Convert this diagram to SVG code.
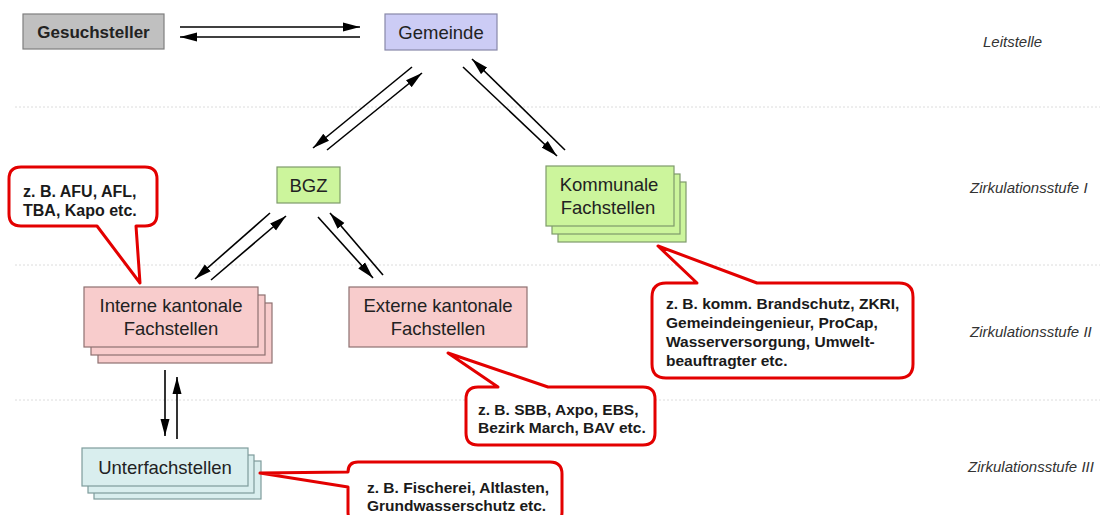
<svg xmlns="http://www.w3.org/2000/svg" width="1106" height="515" viewBox="0 0 1106 515">
<style>
.sep{stroke:#dcdcdc;stroke-width:1;stroke-dasharray:2,2;fill:none}
.node text{font-family:"Liberation Sans",Arial,sans-serif;font-size:18.5px;fill:#222;text-anchor:middle}
.lvl{font-family:"Liberation Sans",Arial,sans-serif;font-size:15px;font-style:italic;fill:#333}
.conn line{stroke:#000;stroke-width:1.6;marker-end:url(#ah)}
.callout path{fill:#fff;stroke:#e30000;stroke-width:3;stroke-linejoin:round}
.callout text{font-family:"Liberation Sans",Arial,sans-serif;font-size:15.5px;font-weight:bold;fill:#1a1a1a}
.grey{fill:#c0c0c0;stroke:#7f7f7f;stroke-width:1.2}
.blue{fill:#ccccf5;stroke:#8888a8;stroke-width:1.2}
.green{fill:#ccf59c;stroke:#7e9a6c;stroke-width:1.2}
.pink{fill:#f8cccc;stroke:#8e7070;stroke-width:1.2}
.cyan{fill:#d9eeee;stroke:#7e9c9c;stroke-width:1.2}
</style>
<defs>
<marker id="ah" markerUnits="userSpaceOnUse" markerWidth="18" markerHeight="10" refX="17" refY="5" orient="auto">
<path d="M0,0.5 L17,5 L0,9.5 z" fill="#000"/>
</marker>
</defs>
<rect width="1106" height="515" fill="#fff"/>
<g id="separators">
<line class="sep" x1="15" y1="107" x2="1100" y2="107"/>
<line class="sep" x1="15" y1="265" x2="1100" y2="265"/>
<line class="sep" x1="15" y1="400" x2="1100" y2="400"/>
</g>
<g id="levels">
<text class="lvl" x="983" y="47">Leitstelle</text>
<text class="lvl" x="970" y="193">Zirkulationsstufe I</text>
<text class="lvl" x="970" y="337">Zirkulationsstufe II</text>
<text class="lvl" x="968" y="472">Zirkulationsstufe III</text>
</g>
<g id="connectors" class="conn">
<line x1="180" y1="27" x2="360" y2="27"/>
<line x1="360" y1="37" x2="180" y2="37"/>
<line x1="412" y1="67" x2="313" y2="148"/>
<line x1="327" y1="150" x2="422" y2="73"/>
<line x1="463" y1="67" x2="557" y2="156"/>
<line x1="565" y1="150" x2="472" y2="59"/>
<line x1="270" y1="213" x2="195" y2="279"/>
<line x1="211" y1="280" x2="286" y2="216"/>
<line x1="318" y1="217" x2="373" y2="278"/>
<line x1="383" y1="275" x2="330" y2="213"/>
<line x1="165" y1="370" x2="165" y2="436"/>
<line x1="177" y1="439" x2="177" y2="377"/>
</g>
<g id="gesuchsteller" class="node">
<rect class="grey" x="23" y="14" width="141" height="35"/>
<text x="93.5" y="38" style="font-weight:bold;font-size:17px">Gesuchsteller</text>
</g>
<g id="gemeinde" class="node">
<rect class="blue" x="385" y="14" width="112" height="36"/>
<text x="441" y="38.5">Gemeinde</text>
</g>
<g id="bgz" class="node">
<rect class="green" x="277" y="167" width="63" height="36"/>
<text x="308.5" y="191.5">BGZ</text>
</g>
<g id="kommunale" class="node">
<rect class="green" x="558" y="182" width="128" height="60"/>
<rect class="green" x="552" y="174" width="128" height="60"/>
<rect class="green" x="546" y="166" width="128" height="60"/>
<text x="609" y="190.5">Kommunale</text>
<text x="608" y="213.5">Fachstellen</text>
</g>
<g id="interne" class="node">
<rect class="pink" x="98" y="303" width="174" height="60"/>
<rect class="pink" x="91" y="295" width="174" height="60"/>
<rect class="pink" x="84" y="287" width="174" height="60"/>
<text x="171" y="311.5">Interne kantonale</text>
<text x="171" y="334.5">Fachstellen</text>
</g>
<g id="externe" class="node">
<rect class="pink" x="349" y="287" width="178" height="60"/>
<text x="438" y="311.5">Externe kantonale</text>
<text x="438" y="334.5">Fachstellen</text>
</g>
<g id="unterfachstellen" class="node">
<rect class="cyan" x="94" y="461" width="167" height="38"/>
<rect class="cyan" x="88" y="455" width="166" height="38"/>
<rect class="cyan" x="82" y="448" width="166" height="38"/>
<text x="165" y="473.5">Unterfachstellen</text>
</g>
<g id="callout-interne" class="callout">
<path d="M21,167 H145 Q157,167 157,179 V214 Q157,226 145,226 H136 L140,283 L97,226 H21 Q9,226 9,214 V179 Q9,167 21,167 Z"/>
<text x="23" y="197" style="font-size:16px">z. B. AFU, AFL,</text>
<text x="23" y="216" style="font-size:16px">TBA, Kapo etc.</text>
</g>
<g id="callout-kommunale" class="callout">
<path d="M666,283 H697 L658,246 L757,283 H899 Q913,283 913,297 V364 Q913,378 899,378 H666 Q652,378 652,364 V297 Q652,283 666,283 Z"/>
<text x="666" y="308.5">z. B. komm. Brandschutz, ZKRI,</text>
<text x="666" y="327.5">Gemeindeingenieur, ProCap,</text>
<text x="666" y="346.5">Wasserversorgung, Umwelt-</text>
<text x="666" y="365.5">beauftragter etc.</text>
</g>
<g id="callout-externe" class="callout">
<path d="M478,387 H498 L448,353 L548,387 H643 Q655,387 655,399 V433 Q655,445 643,445 H478 Q466,445 466,433 V399 Q466,387 478,387 Z"/>
<text x="478" y="414.5">z. B. SBB, Axpo, EBS,</text>
<text x="478" y="432.5">Bezirk March, BAV etc.</text>
</g>
<g id="callout-unterfach" class="callout">
<path d="M358,462 H550 Q562,462 562,474 V512 Q562,524 550,524 H360 Q348,524 348,512 V487 L260,473 L348,472 Q348,462 358,462 Z"/>
<text x="367" y="492.5">z. B. Fischerei, Altlasten,</text>
<text x="367" y="510.5">Grundwasserschutz etc.</text>
</g>
</svg>
